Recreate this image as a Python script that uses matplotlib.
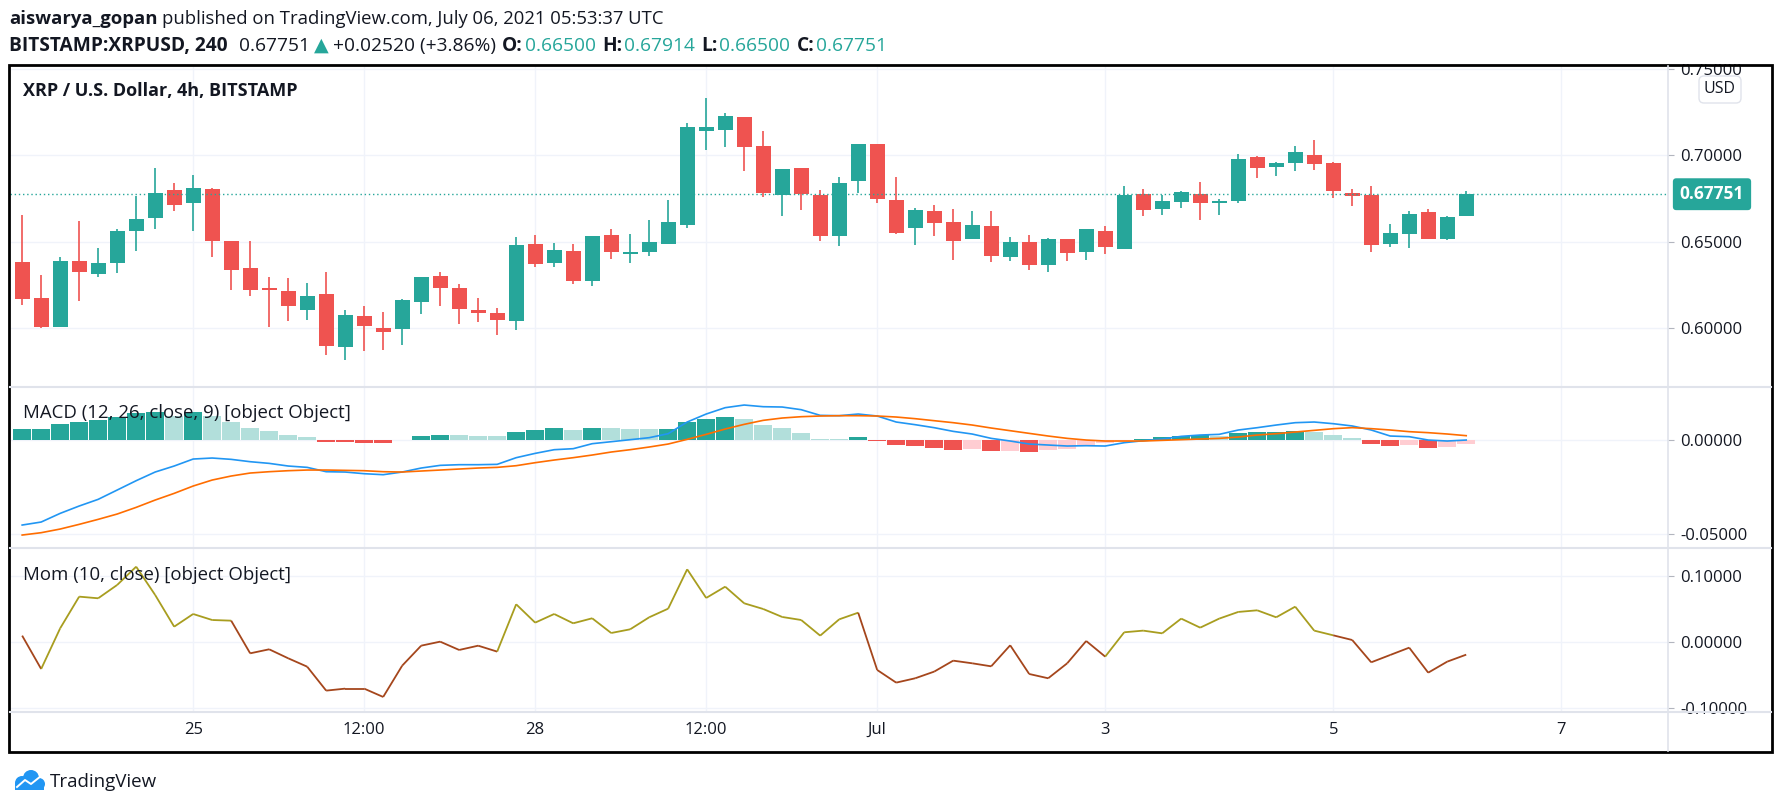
import numpy as np
import matplotlib.pyplot as plt
import matplotlib.transforms as mtransforms
from matplotlib.collections import LineCollection
from matplotlib.lines import Line2D
from matplotlib.patches import Rectangle, FancyBboxPatch, Circle
from matplotlib.ticker import FuncFormatter

W, H = 1783, 809
FONT = ['Open Sans', 'DejaVu Sans']
TXT = '#131722'
UP, DOWN = '#26a69a', '#ef5350'
UP_LIGHT, DOWN_LIGHT = '#b2dfdb', '#ffcdd2'
GRID = '#f0f3fa'
SEP = '#e0e3eb'

# XRPUSD 4h candles, Jun 23 12:00 -> Jul 6 04:00 UTC
opens = [0.6383, 0.6175, 0.6010, 0.6389, 0.6316, 0.6380, 0.6565, 0.6640, 0.6800, 0.6726,
         0.6805, 0.6505, 0.6349, 0.6227, 0.6216, 0.6108, 0.6198, 0.5894, 0.6071, 0.6002,
         0.5998, 0.6154, 0.6303, 0.6233, 0.6106, 0.6089, 0.6044, 0.6488, 0.6380, 0.6447,
         0.6276, 0.6540, 0.6432, 0.6443, 0.6489, 0.6599, 0.7143, 0.7148, 0.7222, 0.7054,
         0.6773, 0.6927, 0.6771, 0.6536, 0.6854, 0.7066, 0.6742, 0.6582, 0.6678, 0.6615,
         0.6518, 0.6592, 0.6414, 0.6499, 0.6368, 0.6516, 0.6443, 0.6563, 0.6460, 0.6777,
         0.6692, 0.6732, 0.6777, 0.6726, 0.6738, 0.6990, 0.6934, 0.6958, 0.7002, 0.6956,
         0.6782, 0.6771, 0.6489, 0.6547, 0.6672, 0.6518, 0.66500]
highs = [0.6655, 0.6308, 0.6412, 0.6620, 0.6464, 0.6574, 0.6767, 0.6927, 0.6840, 0.6886,
         0.6811, 0.6507, 0.6505, 0.6297, 0.6291, 0.6262, 0.6326, 0.6106, 0.6129, 0.6094,
         0.6170, 0.6297, 0.6326, 0.6256, 0.6175, 0.6118, 0.6528, 0.6540, 0.6493, 0.6488,
         0.6534, 0.6574, 0.6545, 0.6626, 0.6742, 0.7187, 0.7331, 0.7245, 0.7222, 0.7141,
         0.6921, 0.6927, 0.6800, 0.6875, 0.7066, 0.7066, 0.6875, 0.6696, 0.6713, 0.6690,
         0.6678, 0.6678, 0.6528, 0.6540, 0.6522, 0.6516, 0.6574, 0.6592, 0.6823, 0.6805,
         0.6771, 0.6794, 0.6846, 0.6748, 0.7008, 0.6996, 0.6961, 0.7054, 0.7089, 0.6961,
         0.6805, 0.6823, 0.6603, 0.6678, 0.6690, 0.6651, 0.67914]
lows = [0.6137, 0.6004, 0.6008, 0.6160, 0.6299, 0.6322, 0.6449, 0.6576, 0.6680, 0.6565,
        0.6414, 0.6224, 0.6189, 0.6010, 0.6044, 0.6050, 0.5848, 0.5817, 0.5871, 0.5877,
        0.5906, 0.6085, 0.6131, 0.6027, 0.6039, 0.5963, 0.5992, 0.6356, 0.6356, 0.6258,
        0.6247, 0.6403, 0.6380, 0.6420, 0.6489, 0.6582, 0.7033, 0.7050, 0.6911, 0.6761,
        0.6651, 0.6686, 0.6507, 0.6478, 0.6784, 0.6726, 0.6547, 0.6484, 0.6536, 0.6397,
        0.6518, 0.6385, 0.6391, 0.6339, 0.6328, 0.6391, 0.6397, 0.6432, 0.6460, 0.6651,
        0.6657, 0.6698, 0.6628, 0.6657, 0.6726, 0.6871, 0.6882, 0.6911, 0.6917, 0.6755,
        0.6709, 0.6443, 0.6472, 0.6466, 0.6518, 0.6513, 0.66500]
closes = [0.6171, 0.6010, 0.6389, 0.6328, 0.6378, 0.6563, 0.6632, 0.6782, 0.6715, 0.6811,
          0.6507, 0.6339, 0.6224, 0.6224, 0.6131, 0.6187, 0.5900, 0.6077, 0.6015, 0.5981,
          0.6164, 0.6297, 0.6235, 0.6114, 0.6091, 0.6050, 0.6482, 0.6374, 0.6453, 0.6276,
          0.6534, 0.6443, 0.6441, 0.6499, 0.6615, 0.7164, 0.7164, 0.7227, 0.7050, 0.6784,
          0.6921, 0.6778, 0.6536, 0.6840, 0.7066, 0.6750, 0.6553, 0.6684, 0.6611, 0.6507,
          0.6597, 0.6420, 0.6499, 0.6368, 0.6516, 0.6437, 0.6574, 0.6472, 0.6771, 0.6686,
          0.6736, 0.6788, 0.6726, 0.6736, 0.6979, 0.6929, 0.6956, 0.7019, 0.6952, 0.6796,
          0.6767, 0.6484, 0.6551, 0.6661, 0.6518, 0.6645, 0.67751]

# MACD (12, 26, 9)
macd_line = [-0.04506, -0.04347, -0.0389, -0.03502, -0.0315, -0.02658, -0.02165, -0.01707, -0.0139, -0.01021,
             -0.00968, -0.01038, -0.01162, -0.0125, -0.0139, -0.01461, -0.0169, -0.01707, -0.01795, -0.01848,
             -0.01707, -0.01496, -0.01355, -0.0132, -0.0132, -0.01302, -0.0095, -0.00722, -0.00528, -0.00475,
             -0.00211, -0.00106, 0.0, 0.00106, 0.00317, 0.00933, 0.01355, 0.0169, 0.0183, 0.01742,
             0.01725, 0.01584, 0.01285, 0.01267, 0.01355, 0.0125, 0.00933, 0.00792, 0.00634, 0.0044,
             0.00299, 0.0007, -0.0007, -0.00229, -0.00282, -0.00334, -0.00317, -0.00334, -0.00158, -0.00053,
             0.00035, 0.00176, 0.00246, 0.00282, 0.0051, 0.00634, 0.00774, 0.00898, 0.00933, 0.00845,
             0.00724, 0.00512, 0.00194, 0.00159, -0.00018, -0.0007, -0.00018]
signal_line = [-0.05034, -0.0491, -0.04717, -0.0447, -0.04206, -0.03925, -0.03573, -0.03186, -0.02834, -0.02446,
               -0.0213, -0.01918, -0.0176, -0.0169, -0.01637, -0.01602, -0.01602, -0.01619, -0.01637, -0.0169,
               -0.01707, -0.01654, -0.01602, -0.01549, -0.01496, -0.01461, -0.01373, -0.01214, -0.01074, -0.0095,
               -0.0081, -0.00651, -0.00528, -0.00387, -0.00229, 0.00018, 0.00282, 0.00563, 0.0081, 0.01021,
               0.01144, 0.01214, 0.0125, 0.01267, 0.01267, 0.0125, 0.01197, 0.01109, 0.01003, 0.00898,
               0.00774, 0.00616, 0.00475, 0.00334, 0.00194, 0.0007, -0.00018, -0.0007, -0.0007, -0.0007,
               -0.00035, 0.0, 0.00035, 0.0007, 0.00141, 0.00246, 0.00317, 0.00405, 0.00493, 0.00581,
               0.00636, 0.00583, 0.00512, 0.00424, 0.00371, 0.003, 0.00212]
macd_hist = [0.00563, 0.0057, 0.00827, 0.00933, 0.01038, 0.01214, 0.0139, 0.01461, 0.0125, 0.01461,
             0.0125, 0.00933, 0.00616, 0.00458, 0.00246, 0.00141, -0.00123, -0.0013, -0.00176, -0.0018,
             -0.00035, 0.00194, 0.00246, 0.0024, 0.00194, 0.0019, 0.00405, 0.0051, 0.00616, 0.0051,
             0.00616, 0.0061, 0.00563, 0.0056, 0.0057, 0.00933, 0.01091, 0.01197, 0.01091, 0.00774,
             0.00616, 0.00352, 0.00035, 0.0003, 0.00141, -0.0007, -0.00282, -0.00334, -0.0044, -0.00546,
             -0.00493, -0.00598, -0.0058, -0.00651, -0.00546, -0.00493, -0.00282, -0.00194, -0.0007, 0.00035,
             0.00141, 0.00194, 0.00246, 0.00194, 0.00352, 0.00405, 0.0042, 0.00458, 0.00405, 0.00246,
             0.00088, -0.00212, -0.00318, -0.0029, -0.00424, -0.00371, -0.00212]

# Momentum (10, close)
momentum = [0.0101, -0.0404, 0.0212, 0.0692, 0.0667, 0.0869, 0.1146, 0.0717, 0.0237, 0.0429,
            0.0338, 0.0328, -0.0167, -0.0106, -0.0242, -0.0369, -0.0732, -0.0702, -0.0702, -0.0828,
            -0.0354, -0.0051, 0.001, -0.0116, -0.0051, -0.0141, 0.0576, 0.0298, 0.0429, 0.0288,
            0.0364, 0.0141, 0.0197, 0.0379, 0.051, 0.1106, 0.0672, 0.0843, 0.0591, 0.0505,
            0.0384, 0.0338, 0.0101, 0.0348, 0.0449, -0.0419, -0.0611, -0.0545, -0.0444, -0.0278,
            -0.0318, -0.0364, -0.0045, -0.048, -0.0545, -0.0318, 0.002, -0.0217, 0.0152, 0.0177,
            0.0136, 0.0359, 0.0222, 0.0359, 0.046, 0.0485, 0.0379, 0.054, 0.0177, 0.0106,
            0.0035, -0.0303, -0.0192, -0.0081, -0.046, -0.0293, -0.0187]

# time axis (bar 0 = Jun 23 12:00)
tick_pos = [9, 18, 27, 36, 45, 57, 69, 81]
tick_lbl = ['25', '12:00', '28', '12:00', 'Jul', '3', '5', '7']

plt.rcParams['font.family'] = FONT
fig = plt.figure(figsize=(W / 100, H / 100), dpi=100)
I = mtransforms.IdentityTransform()


def px(x, y):
    return x / W, 1 - y / H


def panel(top, bottom):
    l, b = px(10, bottom)
    return fig.add_axes([l, b, 1658 / W, (bottom - top) / H])


ax1 = panel(66, 387)
ax2 = panel(387, 548)
ax3 = panel(548, 712)
fmt = FuncFormatter(lambda v, p: f'{v:.5f}')

for ax in (ax1, ax2, ax3):
    ax.set_xlim(-0.64, 86.62)
    for s in ax.spines.values():
        s.set_visible(False)
    ax.yaxis.tick_right()
    ax.yaxis.set_major_formatter(fmt)
    ax.tick_params(axis='y', length=4, color='#b2b5be', labelsize=12, labelcolor=TXT, pad=5)
    ax.set_xticks(tick_pos)
    ax.tick_params(axis='x', length=0, labelbottom=False)
    ax.grid(True, color=GRID, lw=1)
    ax.set_axisbelow(True)

# --- price panel
x = np.arange(len(closes))
o, h, l, c = map(np.array, (opens, highs, lows, closes))
col = np.where(c >= o, UP, DOWN)
ax1.vlines(x, l, h, colors=col, lw=1.2)
ax1.bar(x, np.maximum(np.abs(c - o), 0.001), width=0.78, bottom=np.minimum(o, c), color=col, lw=0)
ax1.axhline(closes[-1], color=UP, ls=(0, (1, 2)), lw=1)
ax1.set_ylim(0.5661, 0.7516)
ax1.set_yticks([0.60, 0.65, 0.70, 0.75])
tr = mtransforms.blended_transform_factory(ax1.transAxes, ax1.transData)
ax1.text(1 + 44 / 1658, closes[-1], f'{closes[-1]:.5f}', transform=tr, ha='center', va='center',
         color='white', fontsize=12.5, fontweight='bold',
         bbox=dict(boxstyle='round,pad=0.4,rounding_size=0.2', fc=UP, ec='none'))

# --- MACD panel
hcol = []
for i, v in enumerate(macd_hist):
    p = macd_hist[i - 1] if i else v - 1
    if v >= 0:
        hcol.append(UP if v > p else UP_LIGHT)
    else:
        hcol.append(DOWN if v < p else DOWN_LIGHT)
ax2.bar(x, macd_hist, width=0.92, color=hcol, lw=0)
ax2.plot(x, macd_line, color='#2196f3', lw=1.2)
ax2.plot(x, signal_line, color='#ff6d00', lw=1.2)
ax2.set_ylim(-0.05718, 0.02782)
ax2.set_yticks([-0.05, 0.0])

# --- Momentum panel
mom = np.array(momentum)
pts = np.column_stack([x, mom])
segs = np.stack([pts[:-1], pts[1:]], axis=1)
mcol = np.where(mom[1:] > 0.005, '#a89d1f', '#a5461c')
ax3.add_collection(LineCollection(segs, colors=mcol, lw=1.3))
ax3.set_ylim(-0.1056, 0.1429)
ax3.set_yticks([-0.1, 0.0, 0.1])
ax3.set_xticklabels(tick_lbl)
ax3.tick_params(axis='x', labelbottom=True, labelsize=12, labelcolor=TXT, pad=7)

# --- pane labels
fig.text(*px(23, 91), 'XRP / U.S. Dollar, 4h, BITSTAMP', fontsize=13, fontweight='bold',
         color=TXT, va='center')
fig.text(*px(23, 413), 'MACD (12, 26, close, 9) [object Object]', fontsize=13.4, color=TXT, va='center')
fig.text(*px(23, 575), 'Mom (10, close) [object Object]', fontsize=13.4, color=TXT, va='center')

# --- separators and frame
for yy in (387, 548, 712):
    fig.add_artist(Line2D([10 / W, 1771 / W], [1 - yy / H] * 2, color=SEP, lw=1.5))
fig.add_artist(Line2D([1668 / W] * 2, [1 - 66 / H, 1 - 751 / H], color=SEP, lw=1.2))
fig.add_artist(Rectangle((1669, H - 64), 102, 14, transform=I, fc='white', ec='none'))
fig.add_artist(Rectangle((9, H - 752), 1763, 687, transform=I, fill=False, ec='black', lw=2))
fig.add_artist(FancyBboxPatch((1699, H - 103), 42, 27, transform=I, fc='white', ec=SEP, lw=1,
                              boxstyle='round,pad=0,rounding_size=5'))
fig.text(*px(1720, 89), 'USD', fontsize=11.5, color=TXT, ha='center', va='center')

# --- header
renderer = fig.canvas.get_renderer()


def line(xp, yp, parts, size=13.3):
    for txt, weight, color, gap in parts:
        t = fig.text(*px(xp, yp), txt, fontsize=size, fontweight=weight, color=color, va='center')
        xp += t.get_window_extent(renderer).width + gap


line(9, 19, [('aiswarya_gopan', 'bold', TXT, 5),
             ('published on TradingView.com, July 06, 2021 05:53:37 UTC', 'normal', TXT, 0)])
line(9, 46, [('BITSTAMP:XRPUSD, 240', 'bold', TXT, 11),
             ('0.67751', 'normal', TXT, 4),
             ('\u25B2', 'normal', UP, 5),
             ('+0.02520 (+3.86%)', 'normal', TXT, 6),
             ('O:', 'bold', TXT, 2), ('0.66500', 'normal', UP, 6),
             ('H:', 'bold', TXT, 2), ('0.67914', 'normal', UP, 6),
             ('L:', 'bold', TXT, 2), ('0.66500', 'normal', UP, 6),
             ('C:', 'bold', TXT, 2), ('0.67751', 'normal', UP, 0)], size=13.8)

# --- TradingView logo
for cx, cy, r in [(22, 783, 7), (31, 778, 8), (39, 784, 6)]:
    fig.add_artist(Circle((cx, H - cy), r, transform=I, fc='#2196f3', ec='none'))
fig.add_artist(Rectangle((15, H - 790), 29, 7, transform=I, fc='#2196f3', ec='none'))
fig.add_artist(Line2D([17, 25, 31, 41], [H - 787, H - 780, H - 784, H - 776], transform=I,
                      color='white', lw=1.4))
fig.text(*px(50, 782), 'TradingView', fontsize=13.5, color=TXT, va='center')

fig.savefig('out.png', dpi=100, facecolor='white')
